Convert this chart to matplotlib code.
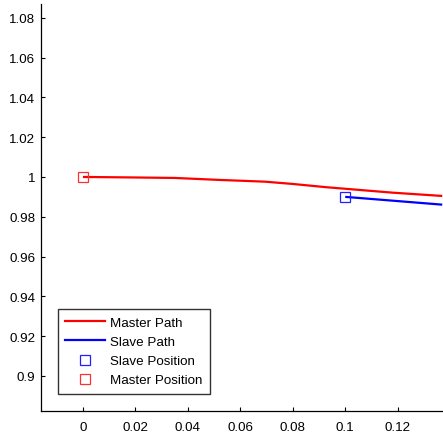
import matplotlib
matplotlib.use("Agg")
import matplotlib.pyplot as plt
from matplotlib.lines import Line2D
from matplotlib.legend_handler import HandlerLine2D

plt.rcParams['font.family'] = ['Liberation Sans', 'DejaVu Sans']

# Data
master_x = [0.0, 0.019, 0.035, 0.0522, 0.0693, 0.080, 0.093, 0.1055, 0.118, 0.137]
master_y = [1.0, 0.99975, 0.9995, 0.9985, 0.99764, 0.99648, 0.99482, 0.99347, 0.99211, 0.99045]
slave_x = [0.100, 0.118, 0.137]
slave_y = [0.9900, 0.98809, 0.98608]
slave_pos = (0.100, 0.9900)
master_pos = (0.0, 1.0)

xticks = [0, 0.02, 0.04, 0.06, 0.08, 0.1, 0.12]
xticklabels = ['0', '0.02', '0.04', '0.06', '0.08', '0.1', '0.12']
yticks = [0.9, 0.92, 0.94, 0.96, 0.98, 1.0, 1.02, 1.04, 1.06, 1.08]
yticklabels = ['0.9', '0.92', '0.94', '0.96', '0.98', '1', '1.02', '1.04', '1.06', '1.08']
legend_labels = ['Master Path', 'Slave Path', 'Slave Position', 'Master Position']

W, H = 443, 435
fig = plt.figure(figsize=(W / 100, H / 100), dpi=100)
ax = fig.add_axes([41 / W, (H - 412) / H, (W - 41) / W, (412 - 5) / H])

ax.plot(master_x, master_y, color='#ff0000', lw=1.6, solid_capstyle='butt')
ax.plot(slave_x, slave_y, color='#0000ff', lw=1.6, solid_capstyle='butt')
ax.plot([slave_pos[0]], [slave_pos[1]], 's', ms=6.5, mfc='none', mec='#2020ff', mew=0.9)
ax.plot([master_pos[0]], [master_pos[1]], 's', ms=6.5, mfc='none', mec='#ff3030', mew=0.9)

ax.set_xlim(-0.016, 0.1373)
ax.set_ylim(0.8824, 1.0869)
ax.set_xticks(xticks)
ax.set_xticklabels(xticklabels)
ax.set_yticks(yticks)
ax.set_yticklabels(yticklabels)
ax.tick_params(direction='in', length=3, width=0.8, labelsize=9.6, colors='black')
ax.tick_params(axis='x', pad=7)
ax.tick_params(axis='y', pad=4)
for s in ['top', 'right']:
    ax.spines[s].set_visible(False)
for s in ['left', 'bottom']:
    ax.spines[s].set_linewidth(0.9)

handles = [
    Line2D([], [], color='#ff0000', lw=1.6),
    Line2D([], [], color='#0000ff', lw=1.6),
    Line2D([], [], ls='none', marker='s', ms=6.5, mfc='none', mec='#2020ff', mew=0.9),
    Line2D([], [], ls='none', marker='s', ms=6.5, mfc='none', mec='#ff3030', mew=0.9),
]
leg = ax.legend(handles, legend_labels, loc='upper left',
                bbox_to_anchor=(57.7 / W, 1 - 310 / H), bbox_transform=fig.transFigure,
                fontsize=9.6, frameon=True, fancybox=False, shadow=False,
                handlelength=3.0, handletextpad=0.4, labelspacing=0.52,
                borderpad=0.55, borderaxespad=0, numpoints=1,
                handler_map={Line2D: HandlerLine2D(numpoints=1)})
leg.get_frame().set_edgecolor('black')
leg.get_frame().set_linewidth(1.0)

fig.savefig('out.png', dpi=100)
